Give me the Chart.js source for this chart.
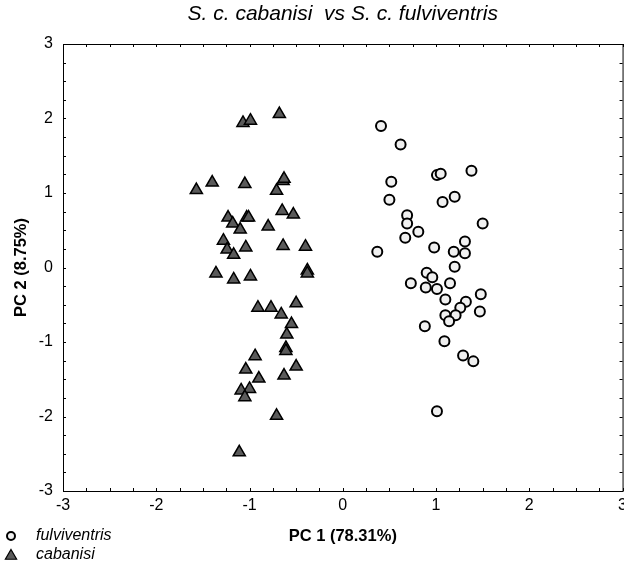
<!DOCTYPE html>
<html>
<head>
<meta charset="utf-8">
<script src="https://cdn.jsdelivr.net/npm/chart.js@4/dist/chart.umd.min.js"></script>
<style>
  html, body { margin: 0; padding: 0; background: #fff; overflow: hidden; }
  #wrap { width: 632px; height: 566px; }
</style>
</head>
<body>
<div id="wrap"><canvas id="pca"></canvas></div>
<script>
// PCA scores (PC 1 vs PC 2)
const fulviX = [0.41, 0.62, 1.01, 1.05, 1.38, 0.52, 1.20, 1.07, 0.50, 0.69, 0.69, 0.81, 0.67, 1.50,
  0.37, 0.98, 1.31, 1.19, 1.31, 1.20, 0.90, 0.96, 0.73, 0.89, 1.01, 1.15, 1.10, 1.32, 1.48, 1.26,
  1.47, 1.10, 1.21, 1.14, 0.88, 1.09, 1.29, 1.40, 1.01];
const fulviY = [1.90, 1.65, 1.24, 1.26, 1.30, 1.15, 0.95, 0.88, 0.91, 0.70, 0.59, 0.48, 0.40, 0.59,
  0.21, 0.27, 0.35, 0.21, 0.19, 0.01, -0.07, -0.13, -0.21, -0.27, -0.29, -0.21, -0.43, -0.46, -0.36,
  -0.54, -0.59, -0.64, -0.64, -0.72, -0.79, -0.99, -1.18, -1.26, -1.93];

const cabX = [-0.68, -1.07, -0.99, -1.57, -1.40, -1.05, -0.64, -0.63, -0.71, -0.65, -0.53, -1.23,
  -1.18, -1.03, -1.01, -1.10, -0.80, -1.28, -1.24, -1.17, -1.04, -0.64, -0.40, -1.36, -1.17, -0.99,
  -0.38, -0.38, -0.91, -0.77, -0.66, -0.50, -0.55, -0.60, -0.61, -0.61, -0.94, -1.04, -0.90, -0.63,
  -0.50, -1.09, -1.00, -1.05, -0.71, -1.11];
const cabY = [2.06, 1.94, 1.97, 1.04, 1.14, 1.12, 1.16, 1.19, 1.03, 0.76, 0.71, 0.67, 0.59, 0.67,
  0.67, 0.51, 0.55, 0.36, 0.24, 0.17, 0.27, 0.29, 0.28, -0.08, -0.16, -0.12, -0.04, -0.08, -0.54,
  -0.54, -0.63, -0.48, -0.76, -0.90, -1.08, -1.12, -1.19, -1.37, -1.49, -1.45, -1.33, -1.65, -1.63,
  -1.74, -1.99, -2.48];

const SERIES_NAMES = ["fulviventris", "cabanisi"];
const TITLE = "S. c. cabanisi  vs S. c. fulviventris";
const X_TITLE = "PC 1 (78.31%)";
const Y_TITLE = "PC 2 (8.75%)";
const AXIS_MIN = -3;
const AXIS_MAX = 3;

const FONT = "'Liberation Sans', Arial, sans-serif";

const zip = (xs, ys) => xs.map((x, i) => ({ x, y: ys[i] }));

// Statistica style frame: box round the plot area, inward ticks every 0.25
const frameTicks = {
  id: "frameTicks",
  beforeDatasetsDraw(chart) {
    const { ctx, chartArea: a, scales } = chart;
    ctx.save();
    ctx.strokeStyle = "#000";
    ctx.lineWidth = 1;
    ctx.strokeRect(a.left + 0.5, a.top + 0.5, a.right - a.left, a.bottom - a.top);
    ctx.beginPath();
    for (let v = AXIS_MIN; v <= AXIS_MAX + 1e-9; v += 0.25) {
      const px = Math.round(scales.x.getPixelForValue(v)) + 0.5;
      ctx.moveTo(px, a.bottom); ctx.lineTo(px, a.bottom - 3);
      ctx.moveTo(px, a.top); ctx.lineTo(px, a.top + 3);
      const py = Math.round(scales.y.getPixelForValue(v)) + 0.5;
      ctx.moveTo(a.left, py); ctx.lineTo(a.left + 3, py);
      ctx.moveTo(a.right, py); ctx.lineTo(a.right - 3, py);
    }
    ctx.stroke();
    ctx.restore();
  },
};

// legend stacked in the bottom-left corner
const cornerLegend = {
  id: "cornerLegend",
  afterDraw(chart) {
    const { ctx } = chart;
    ctx.save();
    chart.data.datasets.forEach((ds, i) => {
      const y = 536 + i * 19;
      const style = {
        pointStyle: ds.pointStyle,
        radius: i === 0 ? 4 : 6.5,
        borderWidth: i === 0 ? 2 : 1.2,
        rotation: 0,
      };
      ctx.fillStyle = ds.backgroundColor;
      ctx.strokeStyle = ds.borderColor;
      ctx.lineWidth = style.borderWidth;
      Chart.helpers.drawPoint(ctx, style, 11, i === 0 ? y : y + 1);
      ctx.fillStyle = "#000";
      ctx.font = "italic 16px " + FONT;
      ctx.textBaseline = "middle";
      ctx.textAlign = "left";
      ctx.fillText(ds.label, 36, y);
    });
    ctx.restore();
  },
};

const tickFont = { family: FONT, size: 16 };
const titleFont = { family: FONT, size: 16.5, weight: "bold" };

new Chart(document.getElementById("pca"), {
  type: "scatter",
  data: {
    datasets: [
      {
        label: SERIES_NAMES[0],
        data: zip(fulviX, fulviY),
        pointStyle: "circle",
        pointRadius: 5,
        pointBorderWidth: 2,
        backgroundColor: "#f0f0f0",
        borderColor: "#000",
      },
      {
        label: SERIES_NAMES[1],
        data: zip(cabX, cabY),
        pointStyle: "triangle",
        pointRadius: 7,
        pointBorderWidth: 1.5,
        backgroundColor: "#5a5a5a",
        borderColor: "#000",
      },
    ],
  },
  options: {
    responsive: true,
    maintainAspectRatio: false,
    animation: false,
    layout: { padding: { left: 0, right: 7, top: 0, bottom: 0 } },
    plugins: {
      legend: { display: false },
      tooltip: { enabled: false },
      title: {
        display: true,
        text: TITLE,
        fullSize: false,
        color: "#000",
        font: { family: FONT, size: 21, style: "italic", weight: "normal" },
        padding: { top: 2, bottom: 16.8 },
      },
    },
    scales: {
      x: {
        type: "linear",
        min: AXIS_MIN,
        max: AXIS_MAX,
        grid: { display: false, drawTicks: false },
        border: { display: false },
        ticks: { stepSize: 1, color: "#000", font: tickFont, padding: 5, autoSkip: false, maxRotation: 0 },
        title: { display: true, text: X_TITLE, color: "#000", font: titleFont, padding: { top: 0, bottom: 20 } },
        afterFit(s) { s.height = 75; },
      },
      y: {
        type: "linear",
        min: AXIS_MIN,
        max: AXIS_MAX,
        grid: { display: false, drawTicks: false },
        border: { display: false },
        ticks: { stepSize: 1, color: "#000", font: tickFont, padding: 10, autoSkip: false },
        title: { display: true, text: Y_TITLE, color: "#000", font: titleFont, padding: { top: 12, bottom: 0 } },
        afterFit(s) { s.width = 63; },
      },
    },
  },
  plugins: [frameTicks, cornerLegend],
});
</script>
</body>
</html>
